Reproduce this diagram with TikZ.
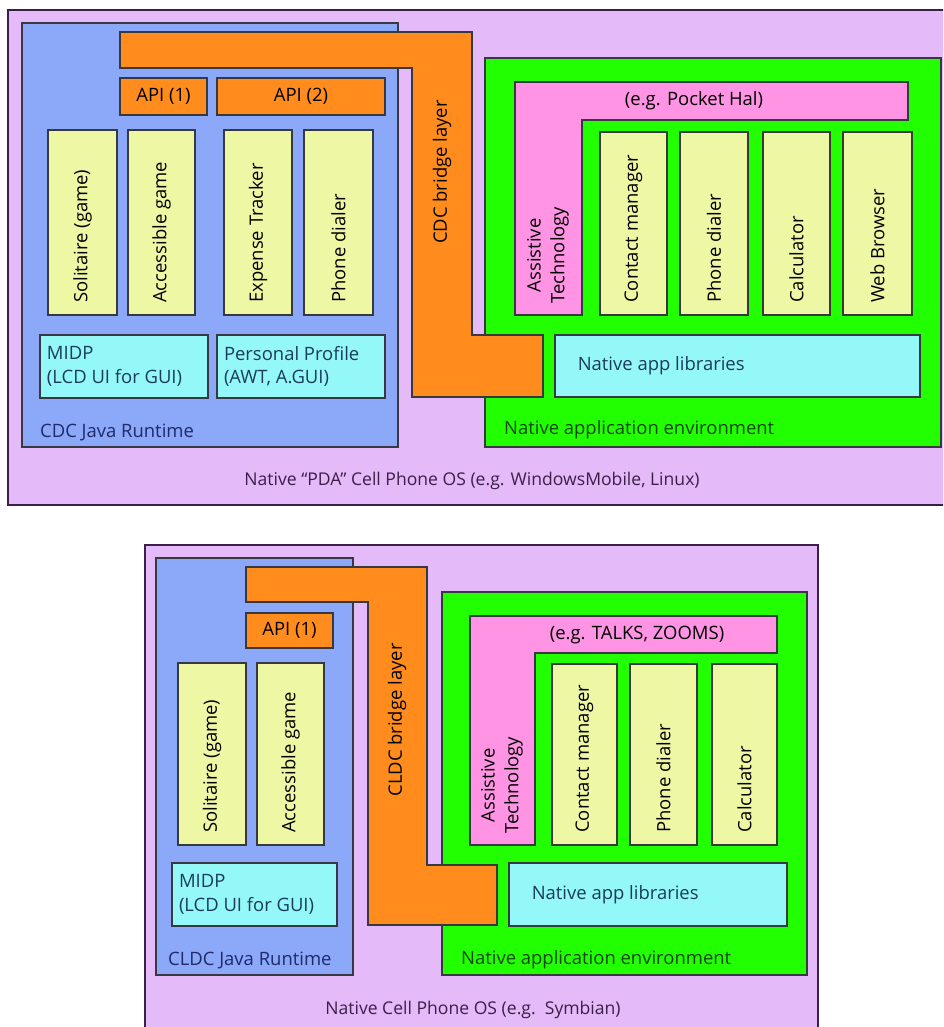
\documentclass[tikz,border=0pt]{standalone}
\usepackage{fontspec}
\setmainfont{Open Sans}
\usetikzlibrary{fit}

\definecolor{osbg}{HTML}{E4BAF8}
\definecolor{osedge}{HTML}{3A2048}
\definecolor{javabg}{HTML}{8CA8F8}
\definecolor{bridgebg}{HTML}{FF8C1C}
\definecolor{nativebg}{HTML}{22FF00}
\definecolor{atbg}{HTML}{FF94E4}
\definecolor{appbg}{HTML}{EEF8A4}
\definecolor{libbg}{HTML}{94F8F8}
\definecolor{edge}{HTML}{383840}
\definecolor{javatxt}{HTML}{1E2A6A}
\definecolor{nativetxt}{HTML}{0A460A}
\definecolor{libtxt}{HTML}{1A3C5A}

\begin{document}
\begin{tikzpicture}[
		x=0.02cm, y=-0.02cm,
		font=\fontsize{10.5}{13.5}\selectfont,
		box/.style={draw=edge, line width=1.1pt, inner sep=0pt},
		os/.style={box, fill=osbg, draw=osedge, line width=1.4pt},
		runtime/.style={box, fill=javabg},
		nativeenv/.style={box, fill=nativebg},
		app/.style={box, fill=appbg},
		lib/.style={box, fill=libbg},
		api/.style={box, fill=bridgebg},
		bridge/.style={draw=edge, line width=1.1pt, fill=bridgebg},
		assist/.style={draw=edge, line width=1.1pt, fill=atbg},
		vlabel/.style={rotate=90, align=center, anchor=west},
		blabel/.style={anchor=west, align=left},
		ostext/.style={text=osedge, font=\fontsize{10}{12}\selectfont}
	]
	\clip (0,0) rectangle (943,1027);

	% upper diagram: PDA phone
	\node[os, fit={(8,10) (960,505)}] (pdaos) {};
	\node[ostext] (pdaostxt) at (472,481) {Native ``PDA'' Cell Phone OS (e.g. WindowsMobile, Linux)};

	\node[runtime, fit={(22,23) (398,447)}] (cdc) {};
	\node[blabel, text=javatxt] (cdctxt) at (34,432) {CDC Java Runtime};

	\node[nativeenv, fit={(485,58) (941,447)}] (pdanat) {};
	\node[blabel, text=nativetxt] (pdanattxt) at (498,430) {Native application environment};

	\draw[assist] (515,82) -- (908,82) -- (908,120) -- (582,120) -- (582,315) -- (515,315) -- cycle;
	\node (pdahal) at (694,101) {(e.g. Pocket Hal)};
	\node[vlabel] (pdaat) at (548,310) {Assistive\\Technology};

	\node[app, fit={(600,132) (667,315)}] (pdacon) {};
	\node[app, fit={(680,132) (748,315)}] (pdanatdial) {};
	\node[app, fit={(763,132) (830,315)}] (pdacalc) {};
	\node[app, fit={(843,132) (912,315)}] (pdaweb) {};
	\node[vlabel] at ([yshift=4pt]pdacon.south) {Contact manager};
	\node[vlabel] at ([yshift=4pt]pdanatdial.south) {Phone dialer};
	\node[vlabel] at ([yshift=4pt]pdacalc.south) {Calculator};
	\node[vlabel] at ([yshift=4pt]pdaweb.south) {Web Browser};

	\node[lib, fit={(555,335) (920,397)}] (pdalib) {};
	\node[blabel, text=libtxt] (pdalibtxt) at ([xshift=10pt]pdalib.west) {Native app libraries};

	\node[app, fit={(48,130) (117,315)}] (pdasol) {};
	\node[app, fit={(128,130) (195,315)}] (pdaacc) {};
	\node[app, fit={(224,130) (292,315)}] (pdaexp) {};
	\node[app, fit={(304,130) (373,315)}] (pdadial) {};
	\node[vlabel] at ([yshift=4pt]pdasol.south) {Solitaire (game)};
	\node[vlabel] at ([yshift=4pt]pdaacc.south) {Accessible game};
	\node[vlabel] at ([yshift=4pt]pdaexp.south) {Expense Tracker};
	\node[vlabel] at ([yshift=4pt]pdadial.south) {Phone dialer};

	\node[lib, fit={(40,335) (208,398)}] (pdamidp) {};
	\node[lib, fit={(217,335) (385,398)}] (pdapp) {};
	\node[blabel, text=libtxt] at ([xshift=1pt]pdamidp.west) {MIDP\\(LCD UI for GUI)};
	\node[blabel, text=libtxt] at ([xshift=1pt]pdapp.west) {Personal Profile\\(AWT, A.GUI)};

	\draw[bridge] (120,32) -- (472,32) -- (472,335) -- (543,335) -- (543,397) -- (412,397) -- (412,68) -- (120,68) -- cycle;
	\node[vlabel, anchor=center] (cdcbridge) at (442,172) {CDC bridge layer};

	\node[api, fit={(120,78) (207,115)}] (pdaapia) {};
	\node[api, fit={(217,78) (385,115)}] (pdaapib) {};
	\node at (pdaapia) {API (1)};
	\node at (pdaapib) {API (2)};

	% lower diagram: plain cell phone
	\node[os, fit={(145,545) (818,1040)}] (cellos) {};
	\node[ostext] (cellostxt) at (473,1010) {Native Cell Phone OS (e.g.\ \ Symbian)};

	\node[runtime, fit={(156,558) (353,975)}] (cldc) {};
	\node[blabel, text=javatxt] (cldctxt) at (162,960) {CLDC Java Runtime};

	\node[nativeenv, fit={(442,592) (807,975)}] (cellnat) {};
	\node[blabel, text=nativetxt] (cellnattxt) at (455,960) {Native application environment};

	\draw[assist] (470,616) -- (777,616) -- (777,653) -- (535,653) -- (535,845) -- (470,845) -- cycle;
	\node (celltalks) at (637,635) {(e.g. TALKS, ZOOMS)};
	\node[vlabel] (cellat) at (502,840) {Assistive\\Technology};

	\node[app, fit={(552,664) (617,845)}] (cellcon) {};
	\node[app, fit={(630,664) (697,845)}] (cellnatdial) {};
	\node[app, fit={(712,664) (777,845)}] (cellcalc) {};
	\node[vlabel] at ([yshift=4pt]cellcon.south) {Contact manager};
	\node[vlabel] at ([yshift=4pt]cellnatdial.south) {Phone dialer};
	\node[vlabel] at ([yshift=4pt]cellcalc.south) {Calculator};

	\node[lib, fit={(509,863) (787,926)}] (celllib) {};
	\node[blabel, text=libtxt] (celllibtxt) at ([xshift=10pt]celllib.west) {Native app libraries};

	\node[app, fit={(178,663) (246,845)}] (cellsol) {};
	\node[app, fit={(257,663) (324,845)}] (cellacc) {};
	\node[vlabel] at ([yshift=4pt]cellsol.south) {Solitaire (game)};
	\node[vlabel] at ([yshift=4pt]cellacc.south) {Accessible game};

	\node[lib, fit={(172,863) (337,926)}] (cellmidp) {};
	\node[blabel, text=libtxt] at ([xshift=1pt]cellmidp.west) {MIDP\\(LCD UI for GUI)};

	\draw[bridge] (246,567) -- (427,567) -- (427,865) -- (497,865) -- (497,925) -- (368,925) -- (368,602) -- (246,602) -- cycle;
	\node[vlabel, anchor=center] (cldcbridge) at (397,720) {CLDC bridge layer};

	\node[api, fit={(246,613) (333,648)}] (cellapi) {};
	\node at (cellapi) {API (1)};
\end{tikzpicture}
\end{document}
